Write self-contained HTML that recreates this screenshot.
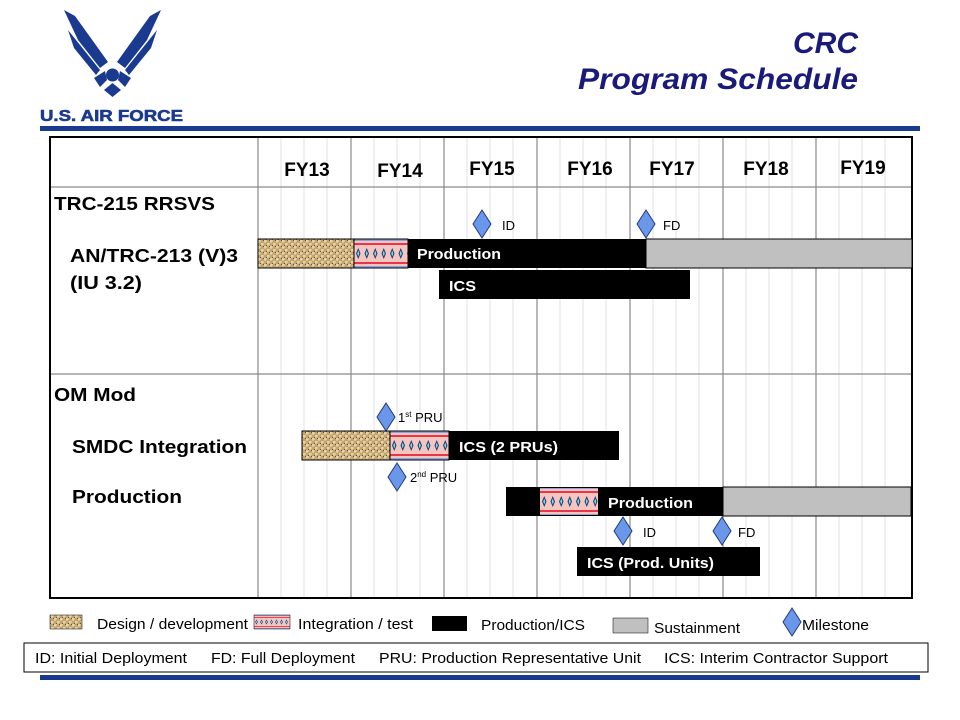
<!DOCTYPE html>
<html><head><meta charset="utf-8"><style>
body{margin:0;background:#fff;}
svg{display:block;font-family:"Liberation Sans",Arial,sans-serif;}
</style></head><body>
<svg width="960" height="720" viewBox="0 0 960 720" xmlns="http://www.w3.org/2000/svg">
<defs>
<pattern id="des" width="6" height="6" patternUnits="userSpaceOnUse">
<rect width="6" height="6" fill="#c2a46c"/>
<path d="M0 1h3M3 4h3M1 0v3M4 3v3" stroke="#efe2c0" stroke-width="1"/>
<rect x="5" y="0" width="1" height="1" fill="#6b5530"/>
<rect x="2" y="5" width="1" height="1" fill="#6b5530"/>
</pattern>
<g id="intcell">
<rect width="8.5" height="29" fill="#f4c6c0"/>
<rect y="0" width="8.5" height="2" fill="#8ea0e0"/>
<rect y="27" width="8.5" height="2" fill="#8ea0e0"/>
<rect y="4" width="8.5" height="2" fill="#e8364a"/>
<rect y="23" width="8.5" height="2" fill="#e8364a"/>
<path d="M4.25 9 L6.5 14.5 L4.25 20 L2 14.5Z" fill="#1a3a8a"/>
<path d="M4.25 11.5 L5.3 14.5 L4.25 17.5 L3.2 14.5Z" fill="#8ee0c0"/>
</g>
<pattern id="int1" x="354" y="239" width="8.5" height="29" patternUnits="userSpaceOnUse"><use href="#intcell"/></pattern>
<pattern id="int2" x="390" y="431" width="8.5" height="29" patternUnits="userSpaceOnUse"><use href="#intcell"/></pattern>
<pattern id="int3" x="540" y="487" width="8.5" height="29" patternUnits="userSpaceOnUse"><use href="#intcell"/></pattern>
<pattern id="int4" x="254" y="615" width="5" height="14" patternUnits="userSpaceOnUse"><g transform="scale(0.59,0.483)"><use href="#intcell"/></g></pattern>
</defs>

<!-- logo -->
<g fill="#1a3a8f">
<polygon points="64,10 75,16 108,62 100,68 78,40"/>
<polygon points="68,30 100,70 96,75 74,48"/>
<polygon points="161,10 150,16 117,62 125,68 147,40"/>
<polygon points="157,30 125,70 129,75 151,48"/>
<circle cx="112.5" cy="75" r="6.5"/>
<polygon points="94,78 105,71 107,80 100,87"/>
<polygon points="131,78 120,71 118,80 125,87"/>
<polygon points="112.5,83 121,90 112.5,97 104,90"/>
</g>
<text x="40" y="121" font-size="16" font-weight="bold" fill="#1a3a8f" textLength="143" lengthAdjust="spacingAndGlyphs" stroke="#1a3a8f" stroke-width="0.6">U.S. AIR FORCE</text>
<rect x="40" y="126" width="880" height="5" fill="#1a3a8f"/>

<text x="858" y="53" font-size="30" font-weight="bold" font-style="italic" fill="#1a1a7a" text-anchor="end">CRC</text>
<text x="858" y="89" font-size="30" font-weight="bold" font-style="italic" fill="#1a1a7a" text-anchor="end" textLength="280" lengthAdjust="spacingAndGlyphs">Program Schedule</text>

<!-- grid -->
<g stroke="#e2e2e2" stroke-width="1">
<path d="M281 137V598M304 137V598M327 137V598M374 137V598M397 137V598M420 137V598M467 137V598M490 137V598M513 137V598M560 137V598M583 137V598M606 137V598M653 137V598M676 137V598M699 137V598M746 137V598M769 137V598M792 137V598M839 137V598M862 137V598M885 137V598"/>
</g>
<g stroke="#8a8a8a" stroke-width="1.2">
<path d="M258 137V598M351 137V598M444 137V598M537 137V598M630 137V598M723 137V598M816 137V598"/>
<path d="M50 187H912M50 374H912"/>
</g>
<rect x="50" y="137" width="862" height="461" fill="none" stroke="#000" stroke-width="2"/>

<g font-size="19" font-weight="bold" fill="#000" text-anchor="middle">
<text x="307" y="176">FY13</text>
<text x="400" y="177">FY14</text>
<text x="492" y="175">FY15</text>
<text x="590" y="175">FY16</text>
<text x="672" y="175">FY17</text>
<text x="766" y="175">FY18</text>
<text x="863" y="174">FY19</text>
</g>
<g font-size="18" font-weight="bold" fill="#000">
<text x="54" y="210" textLength="161" lengthAdjust="spacingAndGlyphs">TRC-215 RRSVS</text>
<text x="70" y="262" textLength="168" lengthAdjust="spacingAndGlyphs">AN/TRC-213 (V)3</text>
<text x="70" y="289" textLength="72" lengthAdjust="spacingAndGlyphs">(IU 3.2)</text>
<text x="54" y="401" textLength="82" lengthAdjust="spacingAndGlyphs">OM Mod</text>
<text x="72" y="453" textLength="175" lengthAdjust="spacingAndGlyphs">SMDC Integration</text>
<text x="72" y="503" textLength="110" lengthAdjust="spacingAndGlyphs">Production</text>
</g>

<!-- row 1 -->
<rect x="258" y="239" width="96" height="29" fill="url(#des)" stroke="#000"/>
<rect x="354" y="239" width="54" height="29" fill="url(#int1)" stroke="#000"/>
<rect x="408" y="239" width="238" height="29" fill="#000"/>
<rect x="646" y="239" width="266" height="29" fill="#c0c0c0" stroke="#000"/>
<text x="417" y="259" font-size="15" font-weight="bold" fill="#fff" textLength="84" lengthAdjust="spacingAndGlyphs">Production</text>
<rect x="439" y="270" width="251" height="29" fill="#000"/>
<text x="449" y="291" font-size="15" font-weight="bold" fill="#fff" textLength="27" lengthAdjust="spacingAndGlyphs">ICS</text>

<!-- row 2 -->
<rect x="302" y="431" width="88" height="29" fill="url(#des)" stroke="#000"/>
<rect x="390" y="431" width="59" height="29" fill="url(#int2)" stroke="#000"/>
<rect x="449" y="431" width="170" height="29" fill="#000"/>
<text x="459" y="452" font-size="15" font-weight="bold" fill="#fff" textLength="99" lengthAdjust="spacingAndGlyphs">ICS (2 PRUs)</text>

<rect x="506" y="487" width="217" height="29" fill="#000"/>
<rect x="540" y="488" width="58" height="27" fill="url(#int3)"/>
<rect x="723" y="487" width="188" height="29" fill="#c0c0c0" stroke="#000"/>
<text x="608" y="508" font-size="15" font-weight="bold" fill="#fff" textLength="85" lengthAdjust="spacingAndGlyphs">Production</text>
<rect x="577" y="547" width="183" height="29" fill="#000"/>
<text x="587" y="568" font-size="15" font-weight="bold" fill="#fff" textLength="127" lengthAdjust="spacingAndGlyphs">ICS (Prod. Units)</text>

<!-- milestones -->
<g fill="#6b97ea" stroke="#1f3a7a" stroke-width="1">
<polygon points="482,210 491,224 482,238 473,224"/>
<polygon points="646,210 655,224 646,238 637,224"/>
<polygon points="386,403 395,417 386,431 377,417"/>
<polygon points="397,463 406,477 397,491 388,477"/>
<polygon points="623,517 632,531 623,545 614,531"/>
<polygon points="722,517 731,531 722,545 713,531"/>
<polygon points="792,608 801,622 792,636 783,622"/>
</g>
<g font-size="13" fill="#000">
<text x="502" y="230">ID</text>
<text x="663" y="230">FD</text>
<text x="398" y="422">1<tspan font-size="8" dy="-5">st</tspan><tspan dy="5"> PRU</tspan></text>
<text x="410" y="482">2<tspan font-size="8" dy="-5">nd</tspan><tspan dy="5"> PRU</tspan></text>
<text x="643" y="537">ID</text>
<text x="738" y="537">FD</text>
</g>

<!-- legend -->
<rect x="50" y="615" width="32" height="14" fill="url(#des)" stroke="#000" stroke-width="0.5"/>
<rect x="254" y="615" width="36" height="14" fill="url(#int4)" stroke="#000" stroke-width="0.5"/>
<rect x="432" y="616" width="35" height="15" fill="#000"/>
<rect x="613" y="618" width="35" height="15" fill="#c0c0c0" stroke="#000" stroke-width="0.5"/>
<g font-size="15" fill="#000">
<text x="97" y="629" textLength="151" lengthAdjust="spacingAndGlyphs">Design / development</text>
<text x="298" y="629" textLength="115" lengthAdjust="spacingAndGlyphs">Integration  / test</text>
<text x="481" y="630" textLength="104" lengthAdjust="spacingAndGlyphs">Production/ICS</text>
<text x="654" y="633" textLength="86" lengthAdjust="spacingAndGlyphs">Sustainment</text>
<text x="802" y="630" textLength="67" lengthAdjust="spacingAndGlyphs">Milestone</text>
</g>
<rect x="24" y="643" width="904" height="29" fill="#fff" stroke="#000" stroke-width="1"/>
<g font-size="15" fill="#000">
<text x="35" y="663" textLength="152" lengthAdjust="spacingAndGlyphs">ID: Initial Deployment</text>
<text x="211" y="663" textLength="144" lengthAdjust="spacingAndGlyphs">FD: Full Deployment</text>
<text x="379" y="663" textLength="262" lengthAdjust="spacingAndGlyphs">PRU: Production Representative Unit</text>
<text x="664" y="663" textLength="224" lengthAdjust="spacingAndGlyphs">ICS: Interim Contractor Support</text>
</g>
<rect x="40" y="675" width="880" height="5" fill="#1a3a8f"/>
</svg>
</body></html>
